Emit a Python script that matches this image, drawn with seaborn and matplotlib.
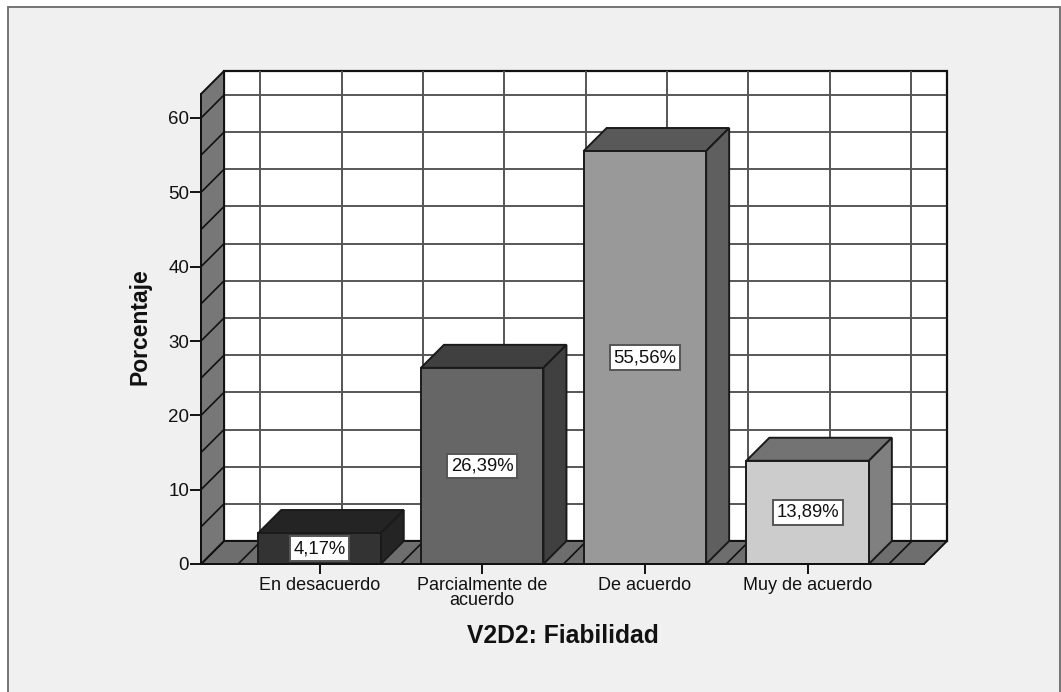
import matplotlib
matplotlib.use("Agg")
import matplotlib.pyplot as plt
from matplotlib.patches import Polygon, Rectangle
import numpy as np
import pandas as pd
import seaborn as sns

categories = ["En desacuerdo", "Parcialmente de\nacuerdo", "De acuerdo", "Muy de acuerdo"]
porcentaje = [4.17, 26.39, 55.56, 13.89]
etiquetas = ["4,17%", "26,39%", "55,56%", "13,89%"]
yticks = [0, 10, 20, 30, 40, 50, 60]
grid_y = [5, 10, 15, 20, 25, 30, 35, 40, 45, 50, 55, 60]
grid_x = [-0.5, 0, 0.5, 1, 1.5, 2, 2.5, 3, 3.5]

front_colors = ["#333333", "#666666", "#999999", "#cccccc"]
top_colors = ["#242424", "#404040", "#595959", "#737373"]
side_colors = ["#242424", "#404040", "#5f5f5f", "#808080"]

W, H = 1061, 692
sns.set_theme(style="white")
plt.rcParams["font.family"] = ["Liberation Sans", "DejaVu Sans"]

fig = plt.figure(figsize=(W / 100, H / 100), dpi=100, facecolor="white")
fig.add_artist(Rectangle((8 / W, -5 / H), 1052 / W, 690 / H, transform=fig.transFigure,
                         facecolor="#f0f0f0", edgecolor="#6a6a6a", linewidth=1.3, zorder=-5))

# axes runs from the front-left corner to the back-right corner
ax = fig.add_axes([201 / W, (H - 564) / H, 746 / W, 493 / H])
ax.patch.set_alpha(0)

df = pd.DataFrame({"cat": categories, "pct": porcentaje})
sns.barplot(data=df, x="cat", y="pct", hue="cat", palette=front_colors, saturation=1,
            width=0.753, dodge=False, legend=False, edgecolor="#1a1a1a", linewidth=1.4,
            zorder=5, ax=ax)

ppx = 162.7
ppy = 446 / 60
dx = 23 / ppx
dy = 23 / ppy
x0 = (201 - 319.5) / ppx
x1 = (947 - 319.5) / ppx
y1 = 493 / ppy
ax.set_xlim(x0, x1)
ax.set_ylim(0, y1)

edge = "#111111"
# back wall, floor, left wall
ax.add_patch(Polygon([(x0 + dx, dy), (x1, dy), (x1, y1), (x0 + dx, y1)], facecolor="white",
                     edgecolor=edge, linewidth=1.6, zorder=1, clip_on=False))
ax.add_patch(Polygon([(x0, 0), (x1 - dx, 0), (x1, dy), (x0 + dx, dy)], facecolor="#6e6e6e",
                     edgecolor=edge, linewidth=1.4, zorder=2, clip_on=False))
ax.add_patch(Polygon([(x0, 0), (x0 + dx, dy), (x0 + dx, y1), (x0, y1 - dy)], facecolor="#777777",
                     edgecolor=edge, linewidth=1.4, zorder=2, clip_on=False))

for g in grid_y:
    ax.plot([x0 + dx, x1], [g + dy, g + dy], color="#2a2a2a", lw=1.1, zorder=1.5)
    ax.plot([x0, x0 + dx], [g, g + dy], color=edge, lw=1.2, zorder=3)
for g in grid_x:
    ax.plot([g + dx - 0.005, g + dx - 0.005], [dy, y1], color="#555555", lw=1.4, zorder=1.5)
    ax.plot([g, g + dx], [0, dy], color=edge, lw=1.2, zorder=3)

# depth faces of the bars, built from the bars seaborn drew
for bar, top, side, lab in zip(ax.patches[:len(categories)], top_colors, side_colors, etiquetas):
    bx, bw, bh = bar.get_x(), bar.get_width(), bar.get_height()
    ax.add_patch(Polygon([(bx, bh), (bx + bw, bh), (bx + bw + dx, bh + dy), (bx + dx, bh + dy)],
                         facecolor=top, edgecolor="#1a1a1a", linewidth=1.4, zorder=4))
    ax.add_patch(Polygon([(bx + bw, 0), (bx + bw + dx, dy), (bx + bw + dx, bh + dy), (bx + bw, bh)],
                         facecolor=side, edgecolor="#1a1a1a", linewidth=1.4, zorder=4))
    ax.text(bx + bw / 2, bh / 2, lab, ha="center", va="center", fontsize=13.3, color="#111111", zorder=7,
            bbox=dict(boxstyle="square,pad=0.2", facecolor="white", edgecolor="#555555", linewidth=1.4))

for s in ["top", "right"]:
    ax.spines[s].set_visible(False)
ax.spines["left"].set_bounds(0, y1 - dy)
ax.spines["bottom"].set_bounds(x0, x1 - dx)
for s in ["left", "bottom"]:
    ax.spines[s].set_color(edge)
    ax.spines[s].set_linewidth(1.4)
    ax.spines[s].set_zorder(6)

ax.set_yticks(yticks)
ax.set_xticks(range(len(categories)))
ax.set_xticklabels(categories, linespacing=0.9)
ax.tick_params(axis="y", length=8, width=1.4, color=edge, labelsize=13.5, pad=0.5, labelcolor="#111111", left=True)
ax.tick_params(axis="x", length=7.5, width=1.4, color=edge, labelsize=13, pad=1.5, labelcolor="#111111", bottom=True)

ax.set_ylabel("")
ax.set_xlabel("")
fig.text(140 / W, (H - 327) / H, "Porcentaje", rotation=90, ha="center", va="center",
         fontsize=16.5, fontweight="bold", color="#111111")
fig.text(563 / W, (H - 636) / H, "V2D2: Fiabilidad", ha="center", va="center",
         fontsize=17.7, fontweight="bold", color="#111111")

fig.savefig("out.png", dpi=100, facecolor=fig.get_facecolor())
